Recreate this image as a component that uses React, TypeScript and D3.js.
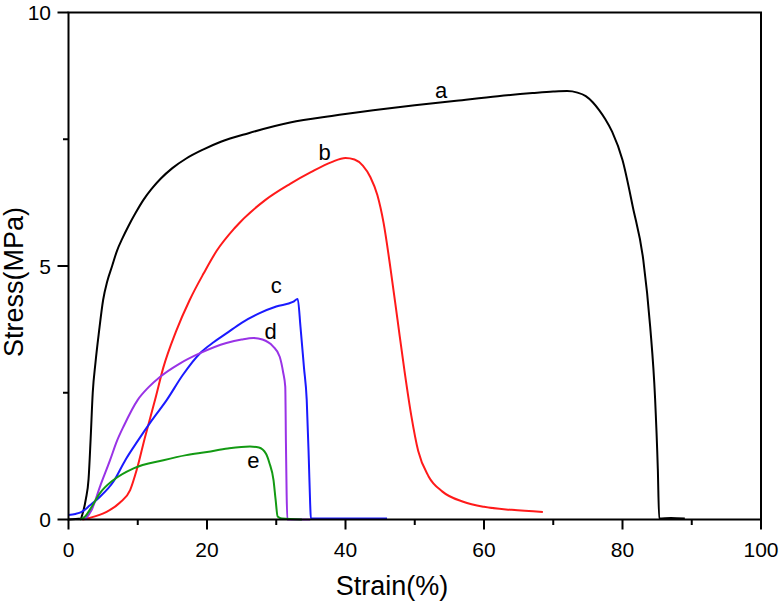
import React from "react";
import * as d3 from "d3";

const xTicks = [0, 20, 40, 60, 80, 100];
const yTicks = [0, 5, 10];
const xMinor = [10, 30, 50, 70, 90];
const yMinor = [2.5, 7.5];

const seriesNames = ["a", "b", "c", "d", "e"];
const seriesColors = ["#000000", "#ff1a1a", "#1a1aff", "#9933e6", "#139a13"];

const curveA: [number, number][] = [
  [0, 0], [1.8, 0.02], [2.0, 0.1], [2.5, 0.4], [2.9, 0.8], [3.2, 1.6], [3.5, 2.5], [3.9, 3.1],
  [4.4, 3.7], [5.0, 4.33], [5.6, 4.7], [6.3, 5.0], [7.0, 5.3], [7.8, 5.55], [8.7, 5.8],
  [9.7, 6.05], [10.8, 6.3], [12, 6.52], [13.3, 6.72], [15, 6.93], [17, 7.12], [19.5, 7.3],
  [22, 7.45], [26, 7.62], [32, 7.83], [38, 7.96], [44, 8.07], [50, 8.17], [56, 8.26],
  [62, 8.35], [67, 8.41], [70, 8.44], [72, 8.45], [73.5, 8.42], [74.7, 8.35], [75.7, 8.23],
  [76.6, 8.08], [77.5, 7.9], [78.5, 7.65], [80, 7.09], [81.5, 6.16], [83, 5.12], [84, 3.8],
  [84.7, 2.4], [85.1, 1.0], [85.3, 0.02], [87, 0.03], [89, 0.02],
];
const curveB: [number, number][] = [
  [2, 0], [3, 0.03], [5.5, 0.15], [7.4, 0.33], [8.9, 0.58], [9.85, 0.98], [11, 1.6],
  [12.5, 2.36], [13.7, 3.0], [15.5, 3.7], [17.5, 4.33], [19.5, 4.85], [21.4, 5.3],
  [24, 5.75], [28.4, 6.3], [32, 6.62], [35, 6.85], [38, 7.05], [40, 7.13], [41.3, 7.1],
  [42.5, 6.98], [43.6, 6.75], [44.6, 6.4], [45.5, 5.85], [46.5, 4.95], [47.5, 3.95],
  [48.5, 2.95], [49.5, 2.05], [50.5, 1.35], [52, 0.85], [54, 0.55], [57, 0.35], [60, 0.25],
  [64, 0.19], [68.5, 0.15],
];
const curveC: [number, number][] = [
  [0, 0.09], [1, 0.11], [1.9, 0.15], [3.1, 0.28], [4.55, 0.45], [6.5, 0.75], [8.2, 1.17],
  [10, 1.55], [12, 1.95], [14.2, 2.36], [16.5, 2.85], [19, 3.28], [21, 3.5], [22.8, 3.67],
  [25, 3.88], [27.6, 4.07], [30, 4.2], [32.4, 4.29], [33.1, 4.35], [33.5, 3.8], [34.0, 3.0],
  [34.4, 2.36], [34.7, 1.2], [34.9, 0.3], [35.0, 0.02], [40, 0.02], [46, 0.02],
];
const curveD: [number, number][] = [
  [2.4, 0], [3.35, 0.19], [4.55, 0.65], [6.0, 1.17], [7, 1.55], [8, 1.85], [10, 2.36],
  [11.5, 2.6], [13.2, 2.81], [16, 3.07], [19, 3.28], [22.8, 3.48], [25, 3.55], [26.7, 3.58],
  [28, 3.55], [29.5, 3.42], [30.5, 3.21], [31.0, 2.9], [31.3, 2.62], [31.4, 1.5],
  [31.5, 0.5], [31.6, 0], [34.9, 0],
];
const curveE: [number, number][] = [
  [1.66, 0], [2.4, 0.06], [3.35, 0.25], [4.55, 0.52], [6.5, 0.78], [9.4, 1.01], [13.7, 1.17],
  [17, 1.27], [20, 1.33], [23, 1.4], [26.2, 1.44], [27.5, 1.42], [28.5, 1.3], [29.0, 1.12],
  [29.6, 0.78], [29.9, 0.4], [30.2, 0.06], [30.8, 0.02], [33.7, 0],
];
const curves = [curveA, curveB, curveC, curveD, curveE];
// label anchor positions in data coordinates
const labelPos: [number, number][] = [[53.8, 8.45], [37, 7.22], [30, 4.6], [29.2, 3.7], [26.7, 1.15]];

const W = 782;
const H = 602;
const left = 68.5;
const right = 761;
const top = 12.5;
const bottom = 519.5;
const font = "Liberation Sans, Arial, sans-serif";

export default function App() {
  const x = d3.scaleLinear().domain([0, 100]).range([left, right]);
  const y = d3.scaleLinear().domain([0, 10]).range([bottom, top]);
  const line = d3
    .line<[number, number]>()
    .x((d) => x(d[0]))
    .y((d) => y(d[1]))
    .curve(d3.curveMonotoneX);

  return (
    <svg width={W} height={H} style={{ position: "absolute", left: 0, top: 0, background: "#fff" }}>
      {curves.map((c, i) => (
        <path key={i} d={line(c) || ""} fill="none" stroke={seriesColors[i]} strokeWidth={2} strokeLinejoin="round" />
      ))}
      {seriesNames.map((n, i) => (
        <text key={n} x={x(labelPos[i][0])} y={y(labelPos[i][1]) + 7} textAnchor="middle" fontFamily={font} fontSize={22}>
          {n}
        </text>
      ))}
      <rect x={left} y={top} width={right - left} height={bottom - top} fill="none" stroke="#000" strokeWidth={2} />
      {xTicks.map((t) => (
        <g key={"x" + t}>
          <line x1={x(t)} x2={x(t)} y1={bottom} y2={bottom + 10} stroke="#000" strokeWidth={2} />
          <text x={x(t)} y={557} textAnchor="middle" fontFamily={font} fontSize={21}>
            {t}
          </text>
        </g>
      ))}
      {xMinor.map((t) => (
        <line key={"xm" + t} x1={x(t)} x2={x(t)} y1={bottom} y2={bottom + 5.5} stroke="#000" strokeWidth={2} />
      ))}
      {yTicks.map((t) => (
        <g key={"y" + t}>
          <line x1={left - 11} x2={left} y1={y(t)} y2={y(t)} stroke="#000" strokeWidth={2} />
          <text x={51} y={y(t) + 7.5} textAnchor="end" fontFamily={font} fontSize={21}>
            {t}
          </text>
        </g>
      ))}
      {yMinor.map((t) => (
        <line key={"ym" + t} x1={left - 5.5} x2={left} y1={y(t)} y2={y(t)} stroke="#000" strokeWidth={2} />
      ))}
      <text x={392} y={595} textAnchor="middle" fontFamily={font} fontSize={27}>
        Strain(%)
      </text>
      <text transform="translate(23,282) rotate(-90)" textAnchor="middle" fontFamily={font} fontSize={27}>
        Stress(MPa)
      </text>
    </svg>
  );
}
